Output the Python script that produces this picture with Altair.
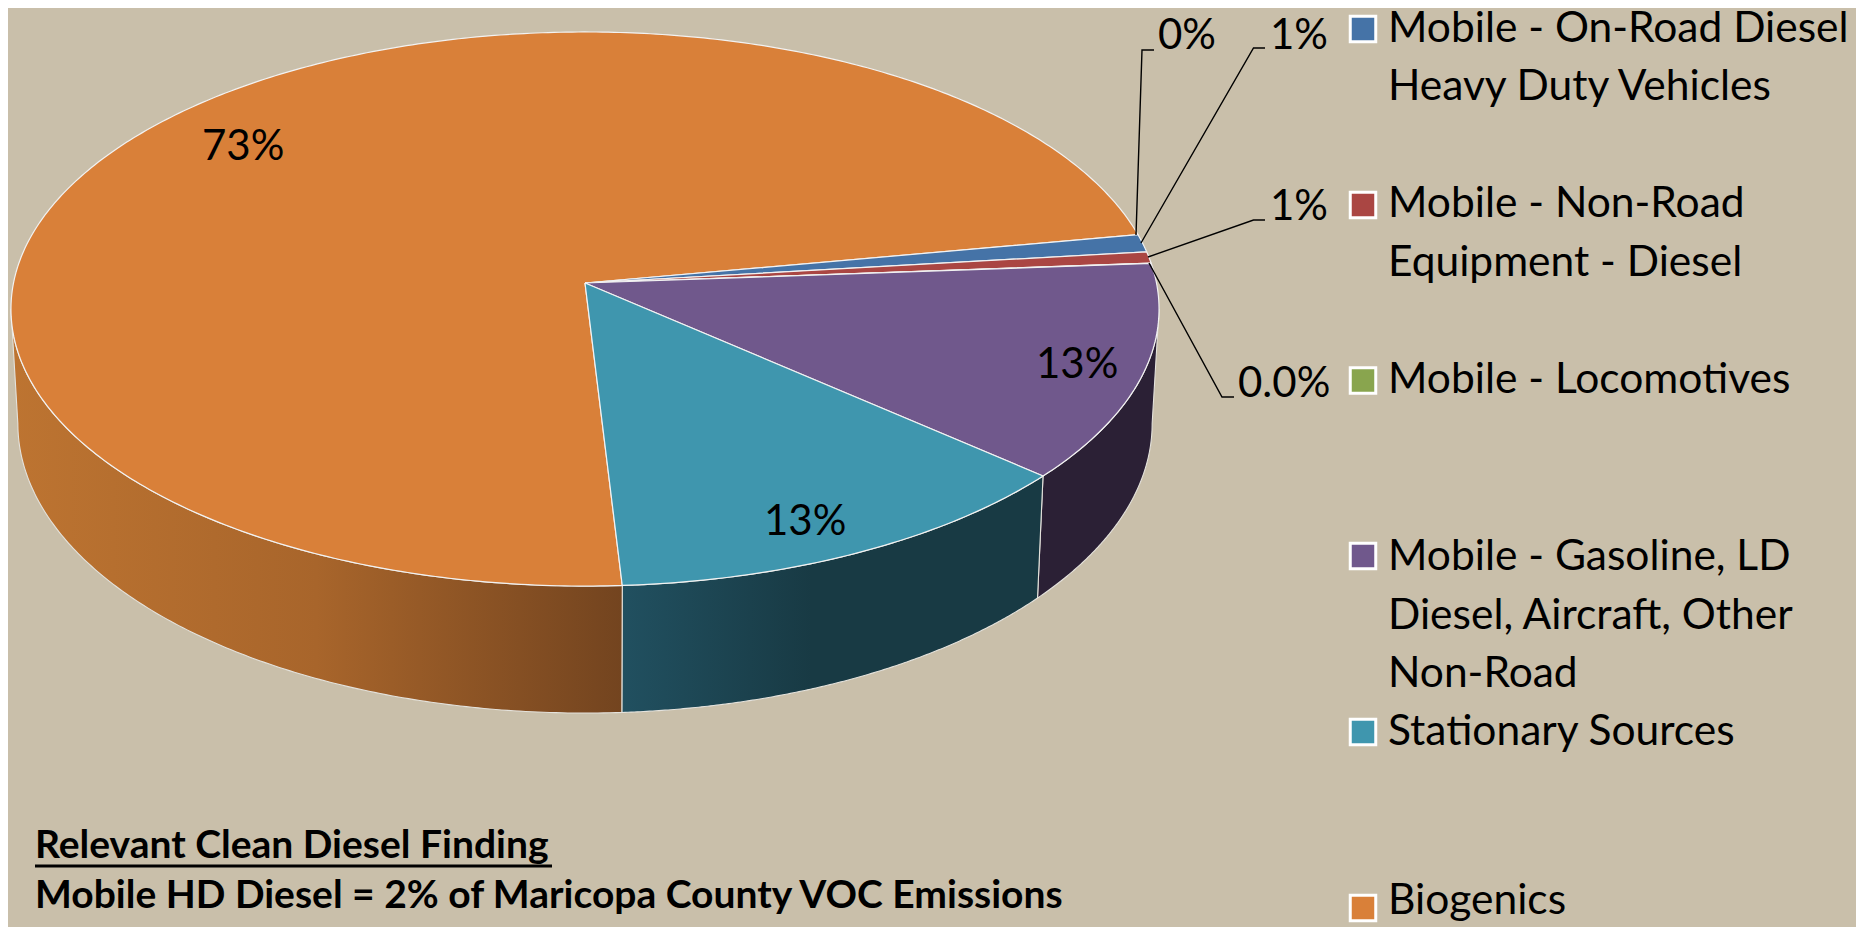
import numpy as np
import pandas as pd
import altair as alt

# ---- values
slice_names = ["Mobile - On-Road Diesel Heavy Duty Vehicles", "Mobile - Non-Road Equipment - Diesel",
               "Mobile - Locomotives", "Mobile - Gasoline, LD Diesel, Aircraft, Other Non-Road",
               "Stationary Sources", "Biogenics"]
slice_values = [1.03, 0.67, 0.02, 12.6, 12.6, 73.08]
slice_colors = ["#4573a7", "#aa4643", "#89a54e", "#70588c", "#3f96ae", "#d98039"]
pct_labels = ["0%", "1%", "1%", "0.0%", "13%", "13%", "73%"]
legend_lines = [["Mobile - On-Road Diesel", "Heavy Duty Vehicles"],
                ["Mobile - Non-Road", "Equipment - Diesel"],
                ["Mobile - Locomotives"],
                ["Mobile - Gasoline, LD", "Diesel, Aircraft, Other", "Non-Road"],
                ["Stationary Sources"],
                ["Biogenics"]]
note_lines = ["Relevant Clean Diesel Finding", "Mobile HD Diesel = 2% of Maricopa County VOC Emissions"]

# ---- layout (page pixels of the reference)
BG = "#c9bfaa"
FONT = "Lato"
FS = 42.5
W, H = 1848, 913
CX, CY, A, B, K = 585, 283, 274.6, 571.5, 0.0939
START = 79.7
x_s = alt.Scale(domain=[8, 8 + W], nice=False, zero=False)
y_s = alt.Scale(domain=[8 + H, 8], nice=False, zero=False)
X = alt.X("x:Q", scale=x_s, axis=None)
Y = alt.Y("y:Q", scale=y_s, axis=None)


def rim(t):
    """Perspective view of a flat disc; t is the clockwise angle from north."""
    r = np.radians(t)
    u, v = np.sin(r), np.cos(r)
    d = 1 + K * v
    return CX + B * u / d, CY - A * v / d


def low(px, py):
    return CX + 0.988 * (px - CX), py + 127 - (586 - py) * 0.045


def poly(px, py, fill, stroke="#f2f2f2", sw=1.2, op=1):
    d = pd.DataFrame({"x": px, "y": py, "i": np.arange(len(px))})
    return alt.Chart(d).mark_line(fill=fill, stroke=stroke, strokeWidth=sw, strokeOpacity=op,
                                  strokeJoin="round").encode(x=X, y=Y, order="i:Q")


edges = START + np.cumsum([0] + slice_values) / sum(slice_values) * 360
sil_r = 90 + np.degrees(np.arcsin(K))
sil_l = 360 - sil_r

wall_fill = {
    3: "#2b2035",
    4: alt.Gradient(gradient="linear", x1=0, x2=1, y1=0, y2=0,
                    stops=[alt.GradientStop(color="#215060", offset=0),
                           alt.GradientStop(color="#183a44", offset=0.45),
                           alt.GradientStop(color="#183a44", offset=1)]),
    5: alt.Gradient(gradient="linear", x1=0, x2=1, y1=0, y2=0,
                    stops=[alt.GradientStop(color="#bd7431", offset=0),
                           alt.GradientStop(color="#a8652b", offset=0.5),
                           alt.GradientStop(color="#73441f", offset=1)]),
}
layers = []
for i, f in wall_fill.items():
    a0, a1 = max(edges[i], sil_r), min(edges[i + 1], sil_l)
    t = np.linspace(a0, a1, 160)
    px, py = rim(t)
    lx, ly = low(px, py)
    layers.append(poly(np.r_[px, lx[::-1], px[0]], np.r_[py, ly[::-1], py[0]], f, stroke="#e4e2dc", sw=1.1))

for i in [5, 0, 1, 2, 3, 4]:
    t = np.linspace(edges[i], edges[i + 1], 400 if i == 5 else 60)
    px, py = rim(t)
    layers.append(poly(np.r_[CX, px, CX], np.r_[CY, py, CY], slice_colors[i]))

# leader lines
leader_xy = [[(1136, 235), (1142, 50), (1154, 50)],
             [(1141, 243), (1253.5, 48), (1265, 48)],
             [(1148, 257), (1253.5, 220), (1265, 220)],
             [(1149, 263), (1222, 397), (1234, 397)]]
for pts in leader_xy:
    d = pd.DataFrame(pts, columns=["x", "y"]).assign(i=range(len(pts)))
    layers.append(alt.Chart(d).mark_line(color="black", strokeWidth=1.4).encode(x=X, y=Y, order="i:Q"))

# percentage labels
pct_xy = [(1158, 49), (1270, 49), (1270, 220), (1238, 397), (1036, 378), (764, 535), (202, 160)]
d = pd.DataFrame({"x": [p[0] for p in pct_xy], "y": [p[1] for p in pct_xy], "t": pct_labels})
layers.append(alt.Chart(d).mark_text(align="left", baseline="alphabetic", font=FONT, fontSize=42, color="black")
              .encode(x=X, y=Y, text="t:N"))

# legend
swatch_y = [29, 205, 380.5, 556, 732, 908]
d = pd.DataFrame({"x": [1363] * 6, "y": swatch_y, "c": slice_colors})
layers.append(alt.Chart(d).mark_point(shape="square", filled=True, size=650, stroke="white", strokeWidth=3, opacity=1)
              .encode(x=X, y=Y, fill=alt.Fill("c:N", scale=None)))
line_y = [[42, 100], [217, 276], [393], [570, 629, 687], [745], [914]]
rows = [{"x": 1388, "y": yy, "t": tt} for ls, ys in zip(legend_lines, line_y) for tt, yy in zip(ls, ys)]
layers.append(alt.Chart(pd.DataFrame(rows)).mark_text(align="left", baseline="alphabetic", font=FONT, fontSize=FS, color="black")
              .encode(x=X, y=Y, text="t:N"))

# note
d = pd.DataFrame({"x": [35, 35], "y": [858, 908], "t": note_lines})
layers.append(alt.Chart(d).mark_text(align="left", baseline="alphabetic", font=FONT, fontSize=39, fontWeight="bold", color="black")
              .encode(x=X, y=Y, text="t:N"))
d = pd.DataFrame({"x": [35], "x2": [552], "y": [866]})
layers.append(alt.Chart(d).mark_rule(color="black", strokeWidth=3).encode(x=X, x2="x2:Q", y=Y))

chart = alt.layer(*layers).properties(width=W, height=H, background=BG, padding=0).configure_view(stroke=None)
chart.save("out.html", embed_options={"renderer": "svg", "actions": False})
